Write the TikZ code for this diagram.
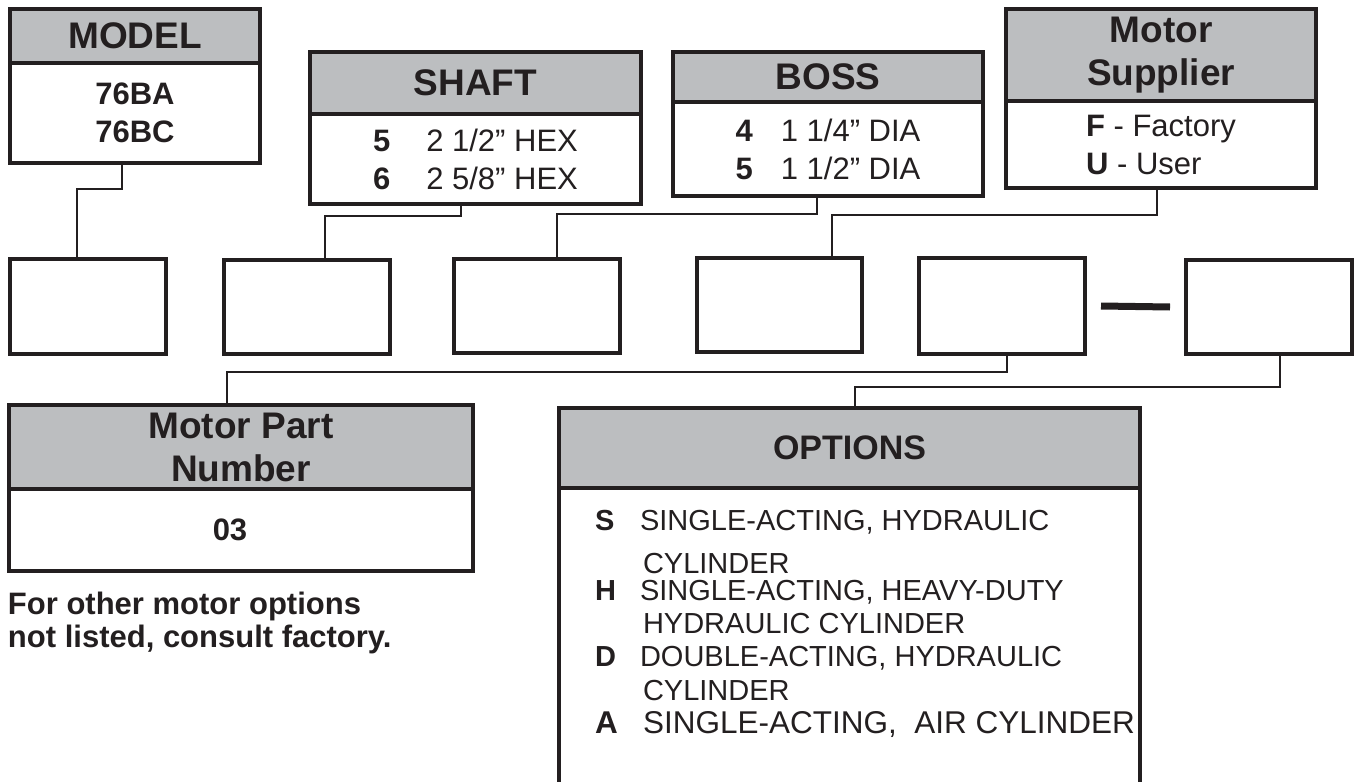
\documentclass[tikz,border=0pt]{standalone}
\usepackage{fontspec}
\setmainfont{Liberation Sans}
\definecolor{ink}{HTML}{231F20}
\definecolor{hdrgray}{HTML}{BCBEC0}
\newcommand\hdrfont{\fontsize{37}{43}\selectfont\bfseries}
\newcommand\bodyfont{\fontsize{31}{38}\selectfont}
\newcommand\optfont{\fontsize{29}{33}\selectfont}
\begin{document}
\begin{tikzpicture}[x=1pt,y=-1pt,
  every node/.style={inner sep=0pt, outer sep=0pt, text=ink},
  hdr/.style={draw=ink, fill=hdrgray, line width=3.1pt, anchor=north west, font=\hdrfont, align=center},
  bodybox/.style={draw=ink, fill=white, line width=3.1pt, anchor=north west, font=\bodyfont, align=center},
  rowbox/.style={draw=ink, fill=white, line width=3.1pt, anchor=north west},
  conn/.style={draw=ink, line width=2.9pt},
  optline/.style={anchor=base west, font=\optfont}]
\useasboundingbox (0,0) rectangle (1356,781);

% MODEL
\node[hdr, minimum width=250pt, minimum height=54pt] (mh) at (10,9) {MODEL};
\node[bodybox, minimum width=250pt, minimum height=100pt] (mb) at (10,63) {\bfseries 76BA\\\bfseries 76BC};

% SHAFT
\node[hdr, minimum width=331pt, minimum height=62pt] (sh) at (310,52) {SHAFT};
\node[bodybox, minimum width=331pt, minimum height=90pt] (sb) at (310,114)
  {{\bfseries 5}\hspace{36pt}2 1/2” HEX\\{\bfseries 6}\hspace{36pt}2 5/8” HEX};

% BOSS
\node[hdr, minimum width=310pt, minimum height=50pt] (bh) at (673,52) {BOSS};
\node[bodybox, minimum width=310pt, minimum height=94pt] (bb) at (673,102)
  {{\bfseries 4}\hspace{28pt}1 1/4” DIA\\{\bfseries 5}\hspace{28pt}1 1/2” DIA};

% Motor Supplier
\node[hdr, minimum width=310pt, minimum height=92pt] (msh) at (1006,9) {Motor\\Supplier};
\node[bodybox, align=left, minimum width=310pt, minimum height=87pt] (msb) at (1006,101)
  {{\bfseries F} - Factory\\{\bfseries U} - User};

% row of boxes
\node[rowbox, minimum width=156pt, minimum height=95pt] (b1) at (10,259) {};
\node[rowbox, minimum width=166pt, minimum height=94pt] (b2) at (224,260) {};
\node[rowbox, minimum width=166pt, minimum height=94pt] (b3) at (454,259) {};
\node[rowbox, minimum width=165pt, minimum height=94pt] (b4) at (697,258) {};
\node[rowbox, minimum width=166pt, minimum height=96pt] (b5) at (919,258) {};
\node[rowbox, minimum width=166pt, minimum height=94pt] (b6) at (1186,260) {};
\draw[ink, line width=7pt] ([xshift=16pt]b5.east) -- ([xshift=-16pt]b6.west);

% Motor Part Number
\node[hdr, minimum width=464pt, minimum height=84pt] (mph) at (9,405) {Motor Part\\Number};
\node[bodybox, minimum width=464pt, minimum height=82pt] (mpb) at (9,489) {\bfseries 03\hspace{22pt}};

\node[anchor=base west, font=\fontsize{31}{33}\selectfont\bfseries, align=left] (note) at (8,647)
  {For other motor options\\not listed, consult factory.};

% OPTIONS
\node[hdr, font=\fontsize{34}{40}\selectfont\bfseries, minimum width=581pt, minimum height=80pt] (oh) at (559,408) {OPTIONS};
\draw[conn, line width=3.1pt] (oh.south west) -- ++(0,300);
\draw[conn, line width=3.1pt] (oh.south east) -- ++(0,300);

\node[optline] (o1) at (595,530) {\bfseries S};
\node[optline] (o1t) at (640,530) {SINGLE-ACTING, HYDRAULIC};
\node[optline] (o1c) at (643,573) {CYLINDER};
\node[optline] (o2) at (595,600) {\bfseries H};
\node[optline] (o2t) at (640,600) {SINGLE-ACTING, HEAVY-DUTY};
\node[optline] (o2c) at (643,633) {HYDRAULIC CYLINDER};
\node[optline] (o3) at (595,666) {\bfseries D};
\node[optline] (o3t) at (640,666) {DOUBLE-ACTING, HYDRAULIC};
\node[optline] (o3c) at (643,700) {CYLINDER};
\node[optline, font=\fontsize{31.5}{36}\selectfont] (o4) at (595,733) {\bfseries A};
\node[optline, font=\fontsize{31.5}{36}\selectfont] (o4t) at (643,733) {SINGLE-ACTING,\ \ AIR CYLINDER};

% connectors
\draw[conn] ([xshift=-13pt]mb.south) -- ++(0,26) -| ([xshift=-11pt]b1.north);
\draw[conn] ([xshift=-14.5pt]sb.south) -- ++(0,12) -| ([xshift=18pt]b2.north);
\draw[conn] ([xshift=-11pt]bb.south) -- ++(0,18) -| ([xshift=20pt]b3.north);
\draw[conn] ([xshift=-4pt]msb.south) -- ++(0,27) -| ([xshift=52.5pt]b4.north);
\draw[conn] ([xshift=5pt]b5.south) -- ++(0,18) -| ([xshift=-14pt]mph.north);
\draw[conn] ([xshift=11pt]b6.south) -- ++(0,33) -| ([xshift=5.5pt]oh.north);
\end{tikzpicture}
\end{document}
